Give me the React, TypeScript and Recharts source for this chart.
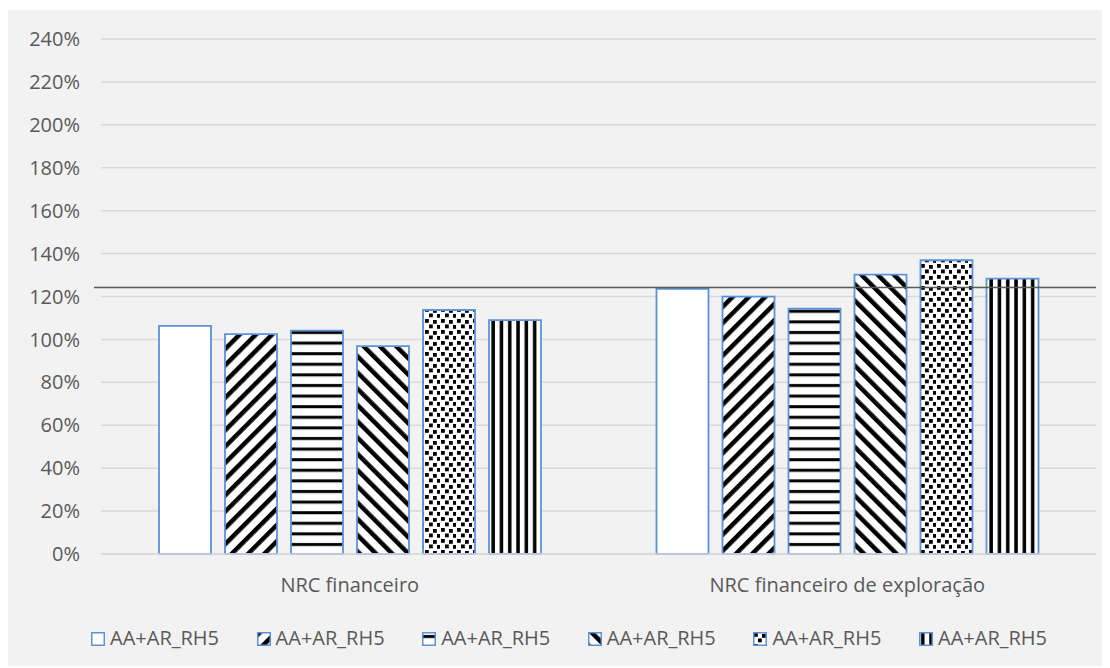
import React from "react";
import { BarChart, Bar, XAxis, YAxis, CartesianGrid, ReferenceLine, Legend } from "recharts";

const categories = ["NRC financeiro", "NRC financeiro de exploração"];
const seriesNames = ["AA+AR_RH5", "AA+AR_RH5", "AA+AR_RH5", "AA+AR_RH5", "AA+AR_RH5", "AA+AR_RH5"];
const s1 = [1.063, 1.236];
const s2 = [1.025, 1.199];
const s3 = [1.041, 1.143];
const s4 = [0.969, 1.302];
const s5 = [1.137, 1.369];
const s6 = [1.09, 1.283];
const yTicks = [0, 0.2, 0.4, 0.6, 0.8, 1.0, 1.2, 1.4, 1.6, 1.8, 2.0, 2.2, 2.4];
const referenceValue = 1.242;

const seriesValues = [s1, s2, s3, s4, s5, s6];
const fills = ["#ffffff", "url(#pDiagUp)", "url(#pHoriz)", "url(#pDiagDown)", "url(#pDots)", "url(#pVert)"];

const data = categories.map((c, i) => {
  const row: any = { category: c };
  seriesValues.forEach((s, k) => {
    row["s" + (k + 1)] = s[i];
  });
  return row;
});

const FONT = "'Open Sans', sans-serif";
const TEXT = "#595959";
const BORDER = "#5B92D8";

const LegendContent = (props: any) => {
  const payload = props.payload || [];
  return (
    <div style={{ position: "relative", width: 1000, height: 24 }}>
      {payload.map((entry: any, i: number) => (
        <div
          key={i}
          style={{
            position: "absolute",
            left: i * 165.6,
            top: 0,
            height: 20,
            lineHeight: "20px",
            display: "flex",
            alignItems: "flex-start",
            whiteSpace: "nowrap",
            fontFamily: FONT,
            fontSize: 20,
            color: TEXT,
          }}
        >
          <svg width={14} height={14} style={{ marginTop: 4, marginRight: 5 }}>
            <rect x={0.75} y={0.75} width={12.5} height={12.5} fill={fills[i]} stroke={BORDER} strokeWidth={1.5} />
          </svg>
          <span>{entry.value}</span>
        </div>
      ))}
    </div>
  );
};

const RefShape = (props: any) => {
  const { x1, x2, y1 } = props;
  if (x1 === undefined) return null;
  return <line x1={x1 - 7} x2={x2} y1={y1} y2={y1} stroke="#595959" strokeWidth={1.5} />;
};

export default function App() {
  return (
    <div style={{ position: "relative", top: 2, width: 1102, height: 658, background: "#f2f2f2" }}>
      <BarChart
        width={1102}
        height={658}
        data={data}
        margin={{ top: 29, right: 14, left: 0, bottom: 54 }}
        barCategoryGap={58}
        barGap={14}
      >
        <defs>
          <pattern id="pDiagUp" width="11.5" height="11.5" patternUnits="userSpaceOnUse" patternTransform="rotate(45)">
            <rect width="11.5" height="11.5" fill="#fff" />
            <rect width="4.5" height="11.5" fill="#000" />
          </pattern>
          <pattern id="pDiagDown" width="11.5" height="11.5" patternUnits="userSpaceOnUse" patternTransform="rotate(-45)">
            <rect width="11.5" height="11.5" fill="#fff" />
            <rect width="4.5" height="11.5" fill="#000" />
          </pattern>
          <pattern id="pHoriz" width="10" height="10.6" patternUnits="userSpaceOnUse">
            <rect width="10" height="10.6" fill="#fff" />
            <rect y="3" width="10" height="3" fill="#000" />
          </pattern>
          <pattern id="pVert" width="8.3" height="10" patternUnits="userSpaceOnUse">
            <rect width="8.3" height="10" fill="#fff" />
            <rect x="2" width="3.5" height="10" fill="#000" />
          </pattern>
          <pattern id="pDots" width="16" height="11" patternUnits="userSpaceOnUse">
            <rect width="16" height="11" fill="#fff" />
            <rect x="1" y="1" width="3.8" height="3.8" fill="#000" />
            <rect x="9" y="2" width="3.8" height="3.8" fill="#000" />
            <rect x="5" y="6.5" width="3.8" height="3.8" fill="#000" />
            <rect x="13" y="7" width="3.8" height="3.8" fill="#000" />
          </pattern>
        </defs>
        <CartesianGrid vertical={false} stroke="#d9d9d9" strokeWidth={1.5} />
        <XAxis
          dataKey="category"
          height={60}
          tickLine={false}
          tickSize={0}
          tickMargin={24}
          axisLine={{ stroke: "#d9d9d9", strokeWidth: 1.5 }}
          tick={{ fill: TEXT, fontSize: 20, fontFamily: FONT }}
        />
        <YAxis
          width={93}
          domain={[0, 2.4]}
          ticks={yTicks}
          interval={0}
          axisLine={false}
          tickLine={false}
          tickSize={0}
          tickMargin={21}
          tickFormatter={(v: number) => `${Math.round(v * 100)}%`}
          tick={{ fill: TEXT, fontSize: 20, fontFamily: FONT }}
        />
        {seriesValues.map((_, k) => (
          <Bar
            key={k}
            dataKey={"s" + (k + 1)}
            name={seriesNames[k]}
            fill={fills[k]}
            stroke={BORDER}
            strokeWidth={1.8}
            isAnimationActive={false}
          />
        ))}
        <ReferenceLine y={referenceValue} shape={RefShape} ifOverflow="visible" />
        <Legend
          layout="vertical"
          align="center"
          verticalAlign="middle"
          wrapperStyle={{ top: 618, left: 83, width: 1000 }}
          content={<LegendContent />}
        />
      </BarChart>
    </div>
  );
}
